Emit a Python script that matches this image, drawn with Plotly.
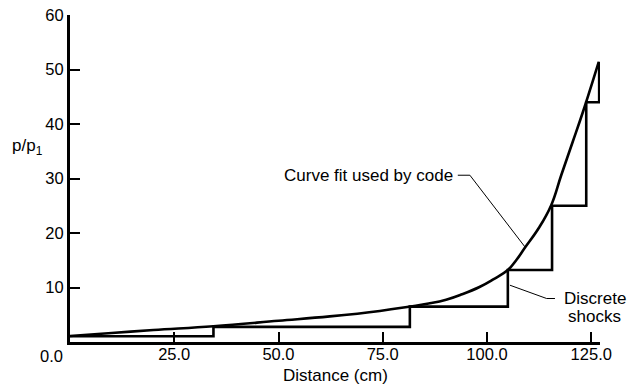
import plotly.graph_objects as go

# Curve fit used by code
curve_x = [0, 10, 20, 34.4, 50, 62.3, 74.3, 81.5, 86, 90.2, 94, 98.2, 101.5, 105, 107, 109, 112.5, 115.4, 117.8, 120.5, 123, 126.8]
curve_p = [1.1, 1.65, 2.2, 2.9, 3.9, 4.7, 5.7, 6.5, 7.05, 7.75, 8.75, 10.1, 11.5, 13.2, 15.0, 17.2, 21.0, 25.1, 30.6, 36.6, 42.2, 51.4]

# Discrete shocks (step positions and pressure ratios)
shock_x = [0, 34.4, 81.5, 105, 115.6, 123.8, 126.9]
shock_p = [1.05, 2.77, 6.5, 13.2, 25.0, 44.0, 51.4]

x_ticks = [25, 50, 75, 100, 125]
y_ticks = [10, 20, 30, 40, 50, 60]

FONT = "Liberation Sans, Arial, Helvetica, sans-serif"

fig = go.Figure()
fig.add_trace(go.Scatter(x=curve_x, y=curve_p, mode="lines",
                         line=dict(color="black", width=2.6, shape="spline", smoothing=1.2),
                         showlegend=False, hoverinfo="skip"))
fig.add_trace(go.Scatter(x=shock_x, y=shock_p, mode="lines",
                         line=dict(color="black", width=2.6, shape="hv"),
                         showlegend=False, hoverinfo="skip"))

fig.update_layout(
    width=639, height=388,
    margin=dict(l=70, r=39, t=15, b=46, pad=0),
    paper_bgcolor="white", plot_bgcolor="white",
    font=dict(family=FONT, color="black", size=17),
    xaxis=dict(range=[0, 127.1], showgrid=False, zeroline=False, automargin=False,
               showline=True, linecolor="black", linewidth=3,
               ticks="inside", ticklen=10, tickwidth=2, tickcolor="black",
               tickvals=x_ticks, ticktext=[f"{v:.1f}" for v in x_ticks],
               ticklabelstandoff=-5,
               tickfont=dict(size=16.5)),
    yaxis=dict(range=[0, 60], showgrid=False, zeroline=False, automargin=False,
               showline=True, linecolor="black", linewidth=3,
               ticks="inside", ticklen=10, tickwidth=2, tickcolor="black",
               tickvals=y_ticks, ticktext=[str(v) for v in y_ticks],
               tickfont=dict(size=16.5)),
)

annotations = [
    dict(x=0, y=0, xref="x", yref="paper", text="0.0", showarrow=False,
         xanchor="center", yanchor="middle",
         xshift=-18.7, yshift=-13.5, font=dict(size=16.5)),
    dict(x=0.5, y=0, xref="paper", yref="paper", yanchor="middle", xanchor="center",
         text="Distance (cm)", showarrow=False, yshift=-33, font=dict(size=17)),
    dict(x=0, y=1, xref="paper", yref="paper", text="p/p<sub>1</sub>", showarrow=False,
         xanchor="center", yanchor="middle", xshift=-43, yshift=-132, font=dict(size=17)),
    dict(x=92.3, y=30.6, xref="x", yref="y", text="Curve fit used by code", showarrow=False,
         xanchor="right", yanchor="middle", font=dict(size=17)),
    dict(x=125.8, y=7.98, xref="x", yref="y", text="Discrete", showarrow=False,
         xanchor="center", yanchor="middle", font=dict(size=17)),
    dict(x=125.8, y=4.6, xref="x", yref="y", text="shocks", showarrow=False,
         xanchor="center", yanchor="middle", font=dict(size=17)),
]
fig.update_layout(annotations=annotations)

shapes = [
    dict(type="path", xref="x", yref="y",
         path="M 93.0,30.6 L 95.9,30.6 L 109.1,17.45",
         line=dict(color="black", width=1)),
    dict(type="path", xref="x", yref="y",
         path="M 105.5,10.42 L 114.3,7.98 L 116.3,7.98",
         line=dict(color="black", width=1)),
]
fig.update_layout(shapes=shapes)

fig.write_html("out.html")
